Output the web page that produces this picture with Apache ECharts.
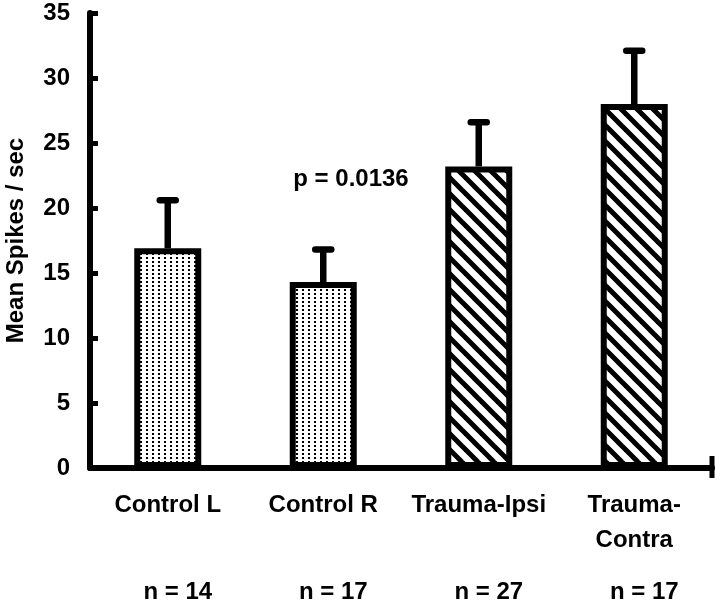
<!DOCTYPE html>
<html>
<head>
<meta charset="utf-8">
<script src="https://cdn.jsdelivr.net/npm/echarts@6/dist/echarts.min.js"></script>
<style>
html,body{margin:0;padding:0;background:#fff;}
#chart{width:720px;height:606px;}
</style>
</head>
<body>
<div id="chart"></div>
<script>
var categories = ["Control L", "Control R", "Trauma-Ipsi", "Trauma-\nContra"];
var nLabels = ["n = 14", "n = 17", "n = 27", "n = 17"];
var means = [16.9, 14.3, 23.2, 28.0];
var errors = [3.7, 2.5, 3.4, 4.1];
var patternKinds = ["dots", "dots", "hatch", "hatch"];
var yTicks = [0, 5, 10, 15, 20, 25, 30, 35];
var pText = "p = 0.0136";

var FONT = "'Liberation Sans', Arial, sans-serif";

function dotPattern() {
  var c = document.createElement('canvas');
  c.width = 6; c.height = 4;
  var g = c.getContext('2d');
  g.fillStyle = '#fff'; g.fillRect(0, 0, 6, 4);
  g.fillStyle = '#000'; g.fillRect(2, 1, 2, 2);
  return c;
}
function hatchPattern() {
  var s = 16;
  var c = document.createElement('canvas');
  c.width = s; c.height = s;
  var g = c.getContext('2d');
  g.fillStyle = '#fff'; g.fillRect(0, 0, s, s);
  g.strokeStyle = '#000'; g.lineWidth = 5;
  [-s, 0, s].forEach(function (k) {
    g.beginPath();
    g.moveTo(-4, -4 + k);
    g.lineTo(s + 4, s + 4 + k);
    g.stroke();
  });
  return c;
}
var patterns = { dots: dotPattern(), hatch: hatchPattern() };

var barData = means.map(function (v, i) {
  return {
    value: v,
    itemStyle: { color: { image: patterns[patternKinds[i]], repeat: 'repeat' } }
  };
});
var errData = means.map(function (v, i) { return [i, v, errors[i]]; });

var chart = echarts.init(document.getElementById('chart'), null, { renderer: 'canvas' });
var option = {
  backgroundColor: '#fff',
  animation: false,
  grid: { left: 90, right: 8, top: 13, bottom: 138, containLabel: false, outerBoundsMode: 'none' },
  xAxis: {
    type: 'category',
    data: categories,
    axisLine: { lineStyle: { color: '#000', width: 6 } },
    axisTick: { show: false },
    axisLabel: {
      interval: 0,
      margin: 20,
      formatter: function (val, idx) {
        var lines = val.split('\n');
        if (lines.length < 2) lines.push(' ');
        return '{c|' + lines[0] + '}\n{c|' + lines[1] + '}\n{n|' + nLabels[idx] + '}';
      },
      rich: {
        c: { fontFamily: FONT, fontWeight: 'bold', fontSize: 24, color: '#000', lineHeight: 35 },
        n: { fontFamily: FONT, fontWeight: 'bold', fontSize: 24, color: '#000', lineHeight: 69, padding: [0, 0, 0, 20] }
      }
    }
  },
  yAxis: {
    type: 'value',
    min: yTicks[0],
    max: yTicks[yTicks.length - 1],
    interval: yTicks[1] - yTicks[0],
    name: 'Mean Spikes / sec',
    nameLocation: 'middle',
    nameGap: 62,
    nameTextStyle: { fontFamily: FONT, fontWeight: 'bold', fontSize: 24, color: '#000' },
    axisLine: { show: true, lineStyle: { color: '#000', width: 6 } },
    axisTick: { show: true, inside: true, length: 8, lineStyle: { color: '#000', width: 5 } },
    axisLabel: { fontFamily: FONT, fontWeight: 'bold', fontSize: 24, color: '#000', margin: 20 },
    splitLine: { show: false }
  },
  series: [
    {
      type: 'bar',
      data: barData,
      barWidth: 67,
      itemStyle: { borderColor: '#000', borderWidth: 6 },
      z: 2
    },
    {
      type: 'custom',
      data: errData,
      z: 3,
      renderItem: function (params, api) {
        var x = api.value(0), m = api.value(1), e = api.value(2);
        var base = api.coord([x, m]);
        var top = api.coord([x, m + e]);
        var capHalf = 8;
        return {
          type: 'group',
          children: [
            { type: 'line', shape: { x1: base[0], y1: base[1], x2: top[0], y2: top[1] },
              style: { stroke: '#000', lineWidth: 6.5 } },
            { type: 'line', shape: { x1: top[0] - capHalf, y1: top[1], x2: top[0] + capHalf, y2: top[1] },
              style: { stroke: '#000', lineWidth: 6.5, lineCap: 'round' } }
          ]
        };
      }
    }
  ],
  graphic: [
    {
      type: 'line',
      shape: { x1: 712, y1: 456, x2: 712, y2: 478 },
      style: { stroke: '#000', lineWidth: 5 }
    },
    {
      type: 'text',
      x: 351, y: 179,
      style: {
        text: pText, fontFamily: FONT, fontWeight: 'bold', fontSize: 24, fill: '#000',
        textAlign: 'center', textVerticalAlign: 'middle'
      }
    }
  ]
};
chart.setOption(option);
</script>
</body>
</html>
